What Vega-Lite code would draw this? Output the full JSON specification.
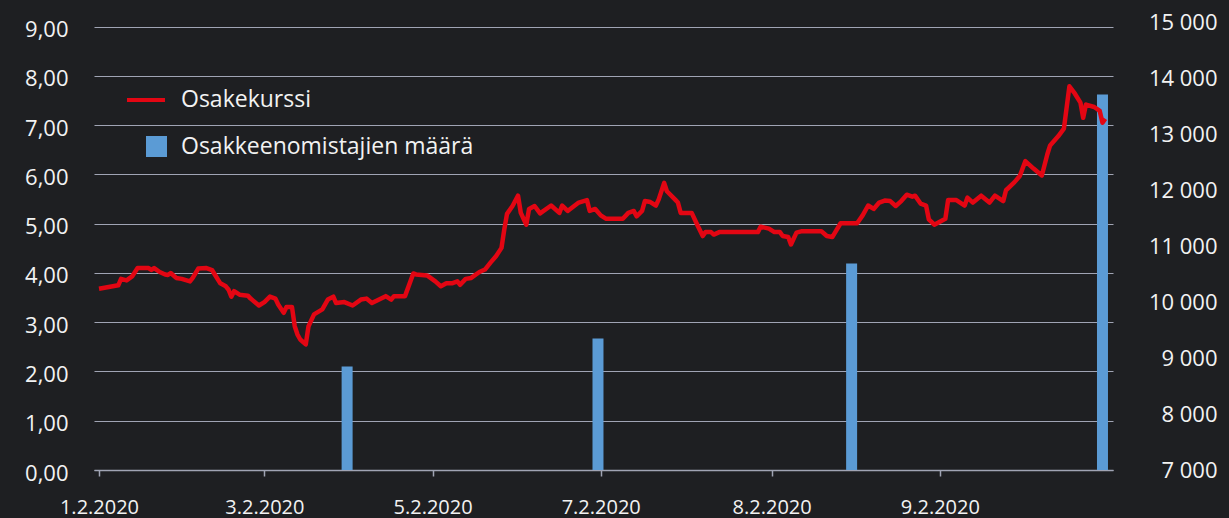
{
  "$schema": "https://vega.github.io/schema/vega-lite/v6.json",
  "width": 1019,
  "height": 448,
  "autosize": {"type": "none"},
  "padding": {"left": 94, "top": 22, "right": 116, "bottom": 48},
  "background": "#1e1f22",
  "config": {
    "view": {"stroke": null},
    "font": "Open Sans",
    "axis": {"labelColor": "#f2f2f2", "labelFont": "Open Sans", "titleColor": "#f2f2f2"},
    "legend": {"labelColor": "#f2f2f2", "labelFont": "Open Sans", "labelLimit": 500}
  },
  "datasets": {
    "owners": [
      {"date": "2020-03-31", "owners": 8848},
      {"date": "2020-06-30", "owners": 9348},
      {"date": "2020-09-30", "owners": 10688},
      {"date": "2020-12-30", "owners": 13705}
    ],
    "price": [
      {"date": "2020-01-01", "price": 3.68},
      {"date": "2020-01-08", "price": 3.75},
      {"date": "2020-01-09", "price": 3.88},
      {"date": "2020-01-11", "price": 3.85},
      {"date": "2020-01-13", "price": 3.93},
      {"date": "2020-01-15", "price": 4.10},
      {"date": "2020-01-19", "price": 4.10},
      {"date": "2020-01-20", "price": 4.06},
      {"date": "2020-01-21", "price": 4.10},
      {"date": "2020-01-23", "price": 4.02},
      {"date": "2020-01-25", "price": 3.97},
      {"date": "2020-01-26", "price": 3.96},
      {"date": "2020-01-27", "price": 4.00},
      {"date": "2020-01-29", "price": 3.90},
      {"date": "2020-01-31", "price": 3.88},
      {"date": "2020-02-03", "price": 3.83},
      {"date": "2020-02-04", "price": 3.90},
      {"date": "2020-02-06", "price": 4.09},
      {"date": "2020-02-09", "price": 4.10},
      {"date": "2020-02-11", "price": 4.06},
      {"date": "2020-02-12", "price": 3.97},
      {"date": "2020-02-14", "price": 3.79},
      {"date": "2020-02-16", "price": 3.73},
      {"date": "2020-02-17", "price": 3.66},
      {"date": "2020-02-18", "price": 3.52},
      {"date": "2020-02-19", "price": 3.63},
      {"date": "2020-02-21", "price": 3.56},
      {"date": "2020-02-24", "price": 3.54},
      {"date": "2020-02-25", "price": 3.48},
      {"date": "2020-02-28", "price": 3.34},
      {"date": "2020-03-01", "price": 3.41},
      {"date": "2020-03-03", "price": 3.52},
      {"date": "2020-03-05", "price": 3.48},
      {"date": "2020-03-06", "price": 3.36},
      {"date": "2020-03-08", "price": 3.19},
      {"date": "2020-03-09", "price": 3.31},
      {"date": "2020-03-11", "price": 3.31},
      {"date": "2020-03-12", "price": 2.92},
      {"date": "2020-03-13", "price": 2.75},
      {"date": "2020-03-14", "price": 2.65},
      {"date": "2020-03-16", "price": 2.55},
      {"date": "2020-03-17", "price": 2.92},
      {"date": "2020-03-19", "price": 3.16},
      {"date": "2020-03-22", "price": 3.26},
      {"date": "2020-03-24", "price": 3.46},
      {"date": "2020-03-26", "price": 3.52},
      {"date": "2020-03-27", "price": 3.39},
      {"date": "2020-03-30", "price": 3.41},
      {"date": "2020-04-02", "price": 3.34},
      {"date": "2020-04-05", "price": 3.46},
      {"date": "2020-04-07", "price": 3.48},
      {"date": "2020-04-09", "price": 3.39},
      {"date": "2020-04-14", "price": 3.53},
      {"date": "2020-04-16", "price": 3.46},
      {"date": "2020-04-17", "price": 3.53},
      {"date": "2020-04-21", "price": 3.53},
      {"date": "2020-04-24", "price": 3.99},
      {"date": "2020-04-25", "price": 3.97},
      {"date": "2020-04-29", "price": 3.95},
      {"date": "2020-05-02", "price": 3.83},
      {"date": "2020-05-04", "price": 3.73},
      {"date": "2020-05-06", "price": 3.79},
      {"date": "2020-05-08", "price": 3.79},
      {"date": "2020-05-10", "price": 3.83},
      {"date": "2020-05-11", "price": 3.76},
      {"date": "2020-05-13", "price": 3.88},
      {"date": "2020-05-15", "price": 3.90},
      {"date": "2020-05-18", "price": 4.02},
      {"date": "2020-05-20", "price": 4.07},
      {"date": "2020-05-22", "price": 4.21},
      {"date": "2020-05-24", "price": 4.34},
      {"date": "2020-05-26", "price": 4.51},
      {"date": "2020-05-27", "price": 4.88},
      {"date": "2020-05-28", "price": 5.20},
      {"date": "2020-05-30", "price": 5.36},
      {"date": "2020-06-01", "price": 5.57},
      {"date": "2020-06-02", "price": 5.22},
      {"date": "2020-06-04", "price": 4.98},
      {"date": "2020-06-05", "price": 5.30},
      {"date": "2020-06-07", "price": 5.36},
      {"date": "2020-06-09", "price": 5.21},
      {"date": "2020-06-13", "price": 5.37},
      {"date": "2020-06-16", "price": 5.22},
      {"date": "2020-06-17", "price": 5.37},
      {"date": "2020-06-19", "price": 5.26},
      {"date": "2020-06-23", "price": 5.43},
      {"date": "2020-06-26", "price": 5.48},
      {"date": "2020-06-27", "price": 5.26},
      {"date": "2020-06-29", "price": 5.30},
      {"date": "2020-07-01", "price": 5.17},
      {"date": "2020-07-03", "price": 5.10},
      {"date": "2020-07-09", "price": 5.10},
      {"date": "2020-07-11", "price": 5.22},
      {"date": "2020-07-13", "price": 5.26},
      {"date": "2020-07-14", "price": 5.15},
      {"date": "2020-07-16", "price": 5.26},
      {"date": "2020-07-17", "price": 5.46},
      {"date": "2020-07-19", "price": 5.44},
      {"date": "2020-07-21", "price": 5.37},
      {"date": "2020-07-22", "price": 5.49},
      {"date": "2020-07-24", "price": 5.83},
      {"date": "2020-07-25", "price": 5.66},
      {"date": "2020-07-28", "price": 5.49},
      {"date": "2020-07-29", "price": 5.43},
      {"date": "2020-07-30", "price": 5.22},
      {"date": "2020-08-03", "price": 5.22},
      {"date": "2020-08-05", "price": 4.98},
      {"date": "2020-08-07", "price": 4.75},
      {"date": "2020-08-08", "price": 4.83},
      {"date": "2020-08-10", "price": 4.83},
      {"date": "2020-08-11", "price": 4.78},
      {"date": "2020-08-13", "price": 4.83},
      {"date": "2020-08-27", "price": 4.83},
      {"date": "2020-08-28", "price": 4.94},
      {"date": "2020-08-31", "price": 4.90},
      {"date": "2020-09-02", "price": 4.83},
      {"date": "2020-09-04", "price": 4.83},
      {"date": "2020-09-05", "price": 4.75},
      {"date": "2020-09-07", "price": 4.73},
      {"date": "2020-09-08", "price": 4.58},
      {"date": "2020-09-10", "price": 4.82},
      {"date": "2020-09-12", "price": 4.85},
      {"date": "2020-09-19", "price": 4.85},
      {"date": "2020-09-21", "price": 4.75},
      {"date": "2020-09-23", "price": 4.73},
      {"date": "2020-09-26", "price": 5.01},
      {"date": "2020-10-02", "price": 5.01},
      {"date": "2020-10-04", "price": 5.17},
      {"date": "2020-10-06", "price": 5.37},
      {"date": "2020-10-08", "price": 5.30},
      {"date": "2020-10-10", "price": 5.43},
      {"date": "2020-10-12", "price": 5.47},
      {"date": "2020-10-14", "price": 5.46},
      {"date": "2020-10-16", "price": 5.36},
      {"date": "2020-10-18", "price": 5.46},
      {"date": "2020-10-20", "price": 5.59},
      {"date": "2020-10-22", "price": 5.55},
      {"date": "2020-10-23", "price": 5.57},
      {"date": "2020-10-25", "price": 5.41},
      {"date": "2020-10-27", "price": 5.37},
      {"date": "2020-10-28", "price": 5.09},
      {"date": "2020-10-30", "price": 4.98},
      {"date": "2020-10-31", "price": 5.01},
      {"date": "2020-11-03", "price": 5.10},
      {"date": "2020-11-04", "price": 5.48},
      {"date": "2020-11-07", "price": 5.48},
      {"date": "2020-11-10", "price": 5.37},
      {"date": "2020-11-11", "price": 5.53},
      {"date": "2020-11-13", "price": 5.43},
      {"date": "2020-11-16", "price": 5.57},
      {"date": "2020-11-19", "price": 5.43},
      {"date": "2020-11-21", "price": 5.57},
      {"date": "2020-11-24", "price": 5.46},
      {"date": "2020-11-25", "price": 5.68},
      {"date": "2020-11-28", "price": 5.84},
      {"date": "2020-11-30", "price": 5.97},
      {"date": "2020-12-02", "price": 6.27},
      {"date": "2020-12-05", "price": 6.12},
      {"date": "2020-12-08", "price": 5.98},
      {"date": "2020-12-10", "price": 6.41},
      {"date": "2020-12-11", "price": 6.59},
      {"date": "2020-12-14", "price": 6.78},
      {"date": "2020-12-16", "price": 6.93},
      {"date": "2020-12-18", "price": 7.79},
      {"date": "2020-12-20", "price": 7.64},
      {"date": "2020-12-22", "price": 7.46},
      {"date": "2020-12-23", "price": 7.15},
      {"date": "2020-12-24", "price": 7.42},
      {"date": "2020-12-27", "price": 7.37},
      {"date": "2020-12-29", "price": 7.29},
      {"date": "2020-12-30", "price": 7.05},
      {"date": "2020-12-31", "price": 7.13}
    ]
  },
  "layer": [
    {
      "data": {"name": "owners"},
      "mark": {"type": "bar", "size": 11, "color": "#5b9bd5", "clip": true},
      "encoding": {
        "x": {
          "field": "date", "type": "temporal",
          "scale": {"type": "utc", "domain": [{"year": 2020, "month": 1, "date": 1, "utc": true}, {"year": 2021, "month": 1, "date": 1, "utc": true}]},
          "axis": {
            "title": null, "grid": false,
            "values": [
              {"year": 2020, "month": 1, "date": 1, "utc": true},
              {"year": 2020, "month": 3, "date": 1, "utc": true},
              {"year": 2020, "month": 5, "date": 1, "utc": true},
              {"year": 2020, "month": 7, "date": 1, "utc": true},
              {"year": 2020, "month": 9, "date": 1, "utc": true},
              {"year": 2020, "month": 11, "date": 1, "utc": true}
            ],
            "labelExpr": "['1.2.2020','','3.2.2020','','5.2.2020','','7.2.2020','','8.2.2020','','9.2.2020'][utcmonth(datum.value)]",
            "labelFontSize": 20, "labelPadding": 21, "labelAngle": 0,
            "domainColor": "#a0a4b4", "domainWidth": 1.5,
            "tickColor": "#a0a4b4", "tickSize": 6, "tickWidth": 1.5
          }
        },
        "y": {
          "field": "owners", "type": "quantitative",
          "scale": {"domain": [7000, 15000], "nice": false, "zero": false},
          "axis": {
            "orient": "right", "title": null, "grid": false, "domain": false, "ticks": false,
            "values": [7000, 8000, 9000, 10000, 11000, 12000, 13000, 14000, 15000],
            "labelExpr": "replace(format(datum.value, ',.0f'), ',', ' ')",
            "labelFontSize": 22, "labelAlign": "right", "labelPadding": 104
          }
        },
        "fill": {
          "datum": "Osakkeenomistajien määrä",
          "scale": {"range": ["#5b9bd5"]},
          "legend": {
            "title": null, "orient": "none", "legendX": 51, "legendY": 113,
            "symbolType": "square", "symbolSize": 441, "symbolStrokeWidth": 0,
            "labelFontSize": 23, "labelOffset": 13, "padding": 0
          }
        }
      }
    },
    {
      "data": {"name": "price"},
      "mark": {"type": "line", "strokeWidth": 4.5, "strokeJoin": "round", "color": "#e30613"},
      "encoding": {
        "x": {
          "field": "date", "type": "temporal",
          "scale": {"type": "utc", "domain": [{"year": 2020, "month": 1, "date": 1, "utc": true}, {"year": 2021, "month": 1, "date": 1, "utc": true}]}
        },
        "y": {
          "field": "price", "type": "quantitative",
          "scale": {"domain": [0, 9.096], "nice": false},
          "axis": {
            "orient": "left", "title": null, "domain": false, "ticks": false,
            "values": [0, 1, 2, 3, 4, 5, 6, 7, 8, 9],
            "labelExpr": "replace(format(datum.value, '.2f'), '.', ',')",
            "labelFontSize": 22, "labelPadding": 26, "labelOffset": 3,
            "grid": true, "gridColor": "#a0a4b4", "gridWidth": 1.2
          }
        },
        "stroke": {
          "datum": "Osakekurssi",
          "scale": {"range": ["#e30613"]},
          "legend": {
            "title": null, "orient": "none", "legendX": 31, "legendY": 57,
            "symbolType": "stroke", "symbolSize": 1444, "symbolStrokeWidth": 4,
            "labelFontSize": 23, "labelOffset": 14, "padding": 0
          }
        }
      }
    }
  ],
  "resolve": {"scale": {"y": "independent"}}
}
